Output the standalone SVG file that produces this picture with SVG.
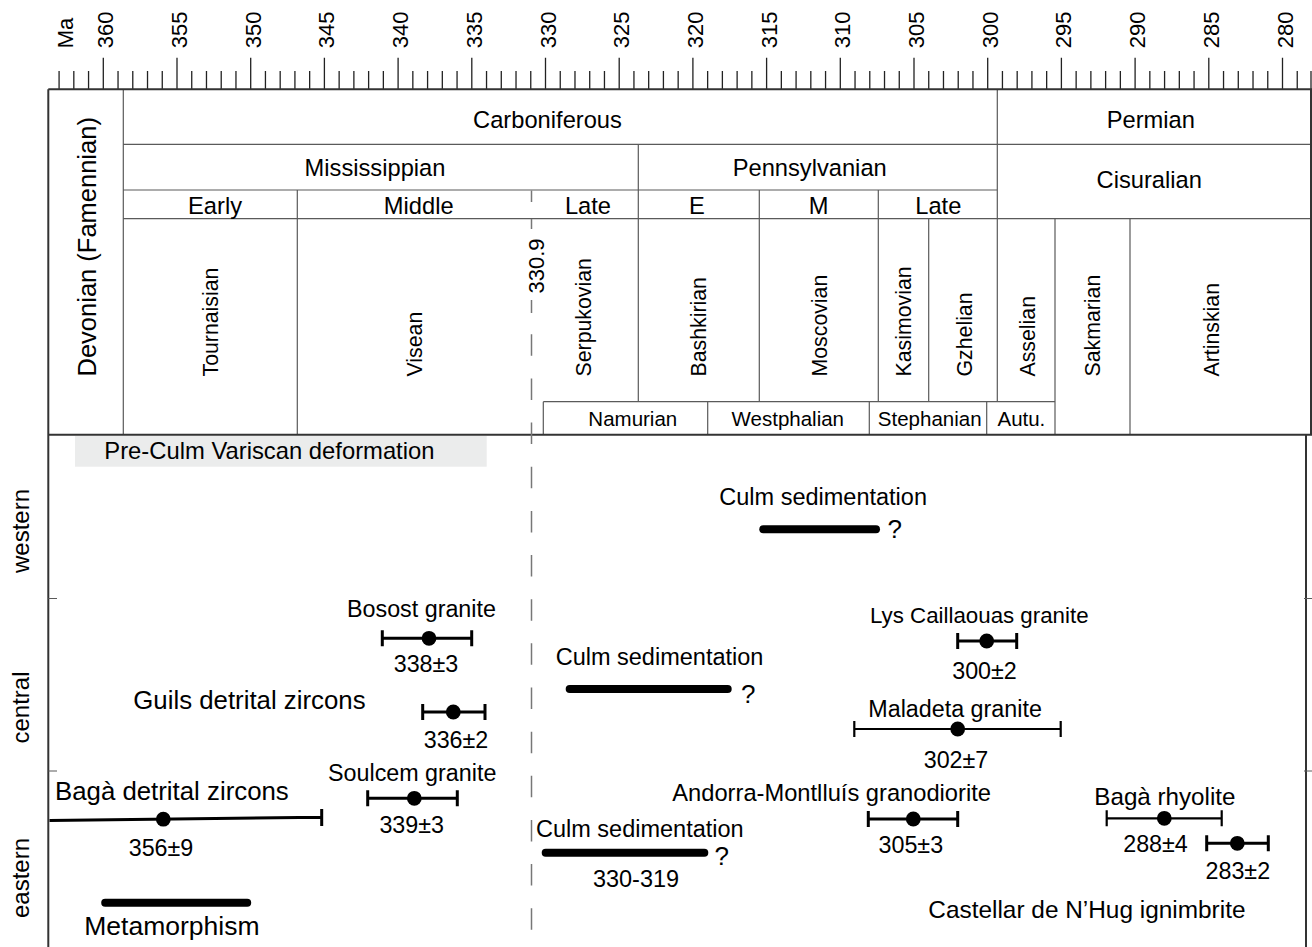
<svg xmlns="http://www.w3.org/2000/svg" width="1312" height="947" viewBox="0 0 1312 947">
<style>
text { font-family: "Liberation Sans", Arial, sans-serif; fill: #000; }
.tick { font-size: 22px; }
.hdr { font-size: 23.7px; text-anchor: middle; }
.stage { font-size: 21.3px; }
.sub { font-size: 20.5px; text-anchor: middle; }
.lbl { font-size: 23.3px; }
.num { font-size: 23.3px; text-anchor: middle; }
.big { font-size: 25.8px; }
.culm { font-size: 23.5px; }
.q { font-size: 26px; }
.frame { stroke: #333; stroke-width: 2; fill: none; }
.grid { stroke: #5a5a5a; stroke-width: 1.2; fill: none; }
.dash { stroke: #777; stroke-width: 1.5; fill: none; }
.err { stroke: #000; stroke-width: 3; fill: none; }
.errt { stroke: #000; stroke-width: 2.2; fill: none; }
.bar { stroke: #000; stroke-width: 8; stroke-linecap: round; fill: none; }
.dot { fill: #000; }
</style>

<g id="axis">
  <path stroke="#222" stroke-width="1.3" fill="none" d="M59.08 71V89.3M73.82 71V89.3M88.56 71V89.3M118.04 71V89.3M132.78 71V89.3M147.52 71V89.3M162.26 71V89.3M191.74 71V89.3M206.48 71V89.3M221.22 71V89.3M235.96 71V89.3M265.44 71V89.3M280.18 71V89.3M294.92 71V89.3M309.66 71V89.3M339.14 71V89.3M353.88 71V89.3M368.62 71V89.3M383.36 71V89.3M412.84 71V89.3M427.58 71V89.3M442.32 71V89.3M457.06 71V89.3M486.54 71V89.3M501.28 71V89.3M516.02 71V89.3M530.76 71V89.3M560.24 71V89.3M574.98 71V89.3M589.72 71V89.3M604.46 71V89.3M633.94 71V89.3M648.68 71V89.3M663.42 71V89.3M678.16 71V89.3M707.64 71V89.3M722.38 71V89.3M737.12 71V89.3M751.86 71V89.3M781.34 71V89.3M796.08 71V89.3M810.82 71V89.3M825.56 71V89.3M855.04 71V89.3M869.78 71V89.3M884.52 71V89.3M899.26 71V89.3M928.74 71V89.3M943.48 71V89.3M958.22 71V89.3M972.96 71V89.3M1002.44 71V89.3M1017.18 71V89.3M1031.92 71V89.3M1046.66 71V89.3M1076.14 71V89.3M1090.88 71V89.3M1105.62 71V89.3M1120.36 71V89.3M1149.84 71V89.3M1164.58 71V89.3M1179.32 71V89.3M1194.06 71V89.3M1223.54 71V89.3M1238.28 71V89.3M1253.02 71V89.3M1267.76 71V89.3M1297.24 71V89.3M1311 71V89.3"/>
  <path stroke="#222" stroke-width="1.3" fill="none" d="M103.3 57.7V89.3M177 57.7V89.3M250.7 57.7V89.3M324.4 57.7V89.3M398.1 57.7V89.3M471.8 57.7V89.3M545.5 57.7V89.3M619.2 57.7V89.3M692.9 57.7V89.3M766.6 57.7V89.3M840.3 57.7V89.3M914 57.7V89.3M987.7 57.7V89.3M1061.4 57.7V89.3M1135.1 57.7V89.3M1208.8 57.7V89.3M1282.5 57.7V89.3"/>
  <text class="tick" transform="translate(72.7 48.3) rotate(-90)">Ma</text>
  <text class="tick" transform="translate(113.3 48.3) rotate(-90)">360</text>
  <text class="tick" transform="translate(187 48.3) rotate(-90)">355</text>
  <text class="tick" transform="translate(260.7 48.3) rotate(-90)">350</text>
  <text class="tick" transform="translate(334.4 48.3) rotate(-90)">345</text>
  <text class="tick" transform="translate(408.1 48.3) rotate(-90)">340</text>
  <text class="tick" transform="translate(481.8 48.3) rotate(-90)">335</text>
  <text class="tick" transform="translate(555.5 48.3) rotate(-90)">330</text>
  <text class="tick" transform="translate(629.2 48.3) rotate(-90)">325</text>
  <text class="tick" transform="translate(702.9 48.3) rotate(-90)">320</text>
  <text class="tick" transform="translate(776.6 48.3) rotate(-90)">315</text>
  <text class="tick" transform="translate(850.3 48.3) rotate(-90)">310</text>
  <text class="tick" transform="translate(924 48.3) rotate(-90)">305</text>
  <text class="tick" transform="translate(997.7 48.3) rotate(-90)">300</text>
  <text class="tick" transform="translate(1071.4 48.3) rotate(-90)">295</text>
  <text class="tick" transform="translate(1145.1 48.3) rotate(-90)">290</text>
  <text class="tick" transform="translate(1218.8 48.3) rotate(-90)">285</text>
  <text class="tick" transform="translate(1292.5 48.3) rotate(-90)">280</text>
</g>

<g id="frame">
  <path class="grid" d="M123.3 89.3V434.7M123.3 144.3H1311M123.3 190H997.3M123.3 218.7H1311M297.3 190V434.7M638.3 144.3V401.7M759.3 190V401.7M878.3 190V401.7M928.7 218.7V401.7M997.3 89.3V401.7M1055 218.7V434.7M1130 218.7V434.7M543.3 401.7H1055M543.3 401.7V434.7M707.7 401.7V434.7M869.3 401.7V434.7M986.7 401.7V434.7"/>
  <path class="frame" stroke-width="1.6" d="M48.3 89.3H1312M1311 89.3V434.7"/>
  <path class="frame" d="M48.3 89.3V947M48.3 434.7H1312M1306 434.7V947"/>
  <path class="grid" stroke="#444" d="M48.3 598.5H57M48.3 771H57M1304 598.5H1312M1304 771H1312"/>
</g>

<g id="boundary-330-9">
  <path class="dash" d="M531.5 190.5V202M531.5 219V229M531.5 300V313"/>
  <line class="dash" x1="531.5" y1="334.3" x2="531.5" y2="947" stroke-dasharray="21.5 22.65"/>
  <text class="tick" transform="translate(543.5 293.5) rotate(-90)">330.9</text>
</g>

<g id="header-labels">
  <text class="hdr" x="547.5" y="128.3">Carboniferous</text>
  <text class="hdr" x="1150.8" y="128.3">Permian</text>
  <text class="hdr" x="375" y="175.7">Mississippian</text>
  <text class="hdr" x="809.7" y="175.7">Pennsylvanian</text>
  <text class="hdr" x="1149.2" y="188.3">Cisuralian</text>
  <text class="hdr" x="215" y="214">Early</text>
  <text class="hdr" x="418.7" y="214">Middle</text>
  <text class="hdr" x="588" y="214">Late</text>
  <text class="hdr" x="697" y="214">E</text>
  <text class="hdr" x="818.7" y="214">M</text>
  <text class="hdr" x="938.3" y="214">Late</text>
  <text style="font-size:25.5px" transform="translate(95.5 376.5) rotate(-90)">Devonian (Famennian)</text>
  <text class="stage" transform="translate(218.3 376.5) rotate(-90)">Tournaisian</text>
  <text class="stage" transform="translate(421.8 376.5) rotate(-90)">Visean</text>
  <text class="stage" transform="translate(591 376.5) rotate(-90)">Serpukovian</text>
  <text class="stage" transform="translate(705.5 376.5) rotate(-90)">Bashkirian</text>
  <text class="stage" transform="translate(826.7 376.5) rotate(-90)">Moscovian</text>
  <text class="stage" transform="translate(910.5 376.5) rotate(-90)">Kasimovian</text>
  <text class="stage" transform="translate(971.5 376.5) rotate(-90)">Gzhelian</text>
  <text class="stage" transform="translate(1034.5 376.5) rotate(-90)">Asselian</text>
  <text class="stage" transform="translate(1100 376.5) rotate(-90)">Sakmarian</text>
  <text class="stage" transform="translate(1218.5 376.5) rotate(-90)">Artinskian</text>
  <text class="sub" x="632.8" y="426">Namurian</text>
  <text class="sub" x="787.8" y="426">Westphalian</text>
  <text class="sub" x="929.7" y="426">Stephanian</text>
  <text class="sub" x="1021.4" y="426">Autu.</text>
</g>

<g id="regions">
  <text style="font-size:24px;text-anchor:middle" transform="translate(28.5 531) rotate(-90)">western</text>
  <text style="font-size:24px;text-anchor:middle" transform="translate(28.5 707.5) rotate(-90)">central</text>
  <text style="font-size:24px;text-anchor:middle" transform="translate(28.5 878) rotate(-90)">eastern</text>
</g>

<g id="pre-culm">
  <rect x="75" y="436" width="411.7" height="30.7" fill="#ebecec"/>
  <text style="font-size:23.8px" x="104.3" y="459">Pre-Culm Variscan deformation</text>
</g>

<g id="culm-western">
  <text class="culm" x="719.3" y="505">Culm sedimentation</text>
  <line class="bar" x1="763.3" y1="529.3" x2="876" y2="529.3"/>
  <text class="q" x="887.5" y="538.3">?</text>
</g>

<g id="bosost">
  <text class="lbl" x="347" y="616.7">Bosost granite</text>
  <path class="err" d="M382.3 638.3H471.7M382.3 630.3V646.3M471.7 630.3V646.3"/>
  <circle class="dot" cx="429" cy="638.3" r="7.4"/>
  <text class="num" x="426" y="672">338±3</text>
</g>

<g id="guils">
  <text class="big" x="133.3" y="709.3">Guils detrital zircons</text>
  <path class="err" d="M422.7 712H485M422.7 704V720M485 704V720"/>
  <circle class="dot" cx="453.3" cy="712" r="7.4"/>
  <text class="num" x="456" y="747.7">336±2</text>
</g>

<g id="soulcem">
  <text class="lbl" x="328" y="781">Soulcem granite</text>
  <path class="err" d="M367.7 798.3H457.3M367.7 790.3V806.3M457.3 790.3V806.3"/>
  <circle class="dot" cx="414.3" cy="798.3" r="7.4"/>
  <text class="num" x="411.7" y="833">339±3</text>
</g>

<g id="baga-zircons">
  <text class="big" x="55" y="800">Bagà detrital zircons</text>
  <path class="err" stroke-width="2.6" d="M49.5 820.5L321.7 817.3M321.7 809V826"/>
  <circle class="dot" cx="163.3" cy="819.2" r="7.4"/>
  <text class="num" x="161" y="856">356±9</text>
</g>

<g id="metamorphism">
  <line class="bar" stroke-width="7" x1="105.2" y1="902.7" x2="247.2" y2="902.7"/>
  <text style="font-size:26.5px" x="84.3" y="935">Metamorphism</text>
</g>

<g id="culm-central">
  <text class="culm" x="555.7" y="665">Culm sedimentation</text>
  <line class="bar" x1="569.7" y1="689" x2="727.7" y2="689"/>
  <text class="q" x="741" y="702.7">?</text>
</g>

<g id="culm-eastern">
  <text class="culm" x="536" y="837.3">Culm sedimentation</text>
  <line class="bar" x1="545.7" y1="852.7" x2="704.3" y2="852.7"/>
  <text class="q" x="714.5" y="865">?</text>
  <text style="font-size:23.5px;text-anchor:middle" x="636" y="886.7">330-319</text>
</g>

<g id="lys">
  <text style="font-size:22.3px" x="870" y="623.3">Lys Caillaouas granite</text>
  <path class="err" d="M957.7 641H1016.7M957.7 633V649M1016.7 633V649"/>
  <circle class="dot" cx="986.7" cy="641" r="7.4"/>
  <text class="num" x="984.5" y="679.3">300±2</text>
</g>

<g id="maladeta">
  <text class="lbl" x="868.3" y="716.7">Maladeta granite</text>
  <path class="errt" d="M854.3 729H1060.7M854.3 721V737M1060.7 721V737"/>
  <circle class="dot" cx="957.7" cy="729" r="7.4"/>
  <text class="num" x="956" y="768.3">302±7</text>
</g>

<g id="andorra">
  <text style="font-size:23.7px" x="672.3" y="800.7">Andorra-Montlluís granodiorite</text>
  <path class="err" d="M868.3 819H957.7M868.3 811V827M957.7 811V827"/>
  <circle class="dot" cx="913.3" cy="819" r="7.4"/>
  <text class="num" x="910.8" y="853.3">305±3</text>
</g>

<g id="baga-rhyolite">
  <text style="font-size:24.2px" x="1094.3" y="805">Bagà rhyolite</text>
  <path class="errt" d="M1106.7 818.3H1221.7M1106.7 810.3V826.3M1221.7 810.3V826.3"/>
  <circle class="dot" cx="1164.3" cy="818.3" r="7.4"/>
  <text class="num" x="1155.5" y="851.7">288±4</text>
</g>

<g id="castellar">
  <path class="err" d="M1206.7 843.3H1268.3M1206.7 835.3V851.3M1268.3 835.3V851.3"/>
  <circle class="dot" cx="1237.3" cy="843.3" r="7.4"/>
  <text class="num" x="1237.8" y="879.3">283±2</text>
  <text style="font-size:24.4px" x="928.3" y="918.3">Castellar de N’Hug ignimbrite</text>
</g>
</svg>
